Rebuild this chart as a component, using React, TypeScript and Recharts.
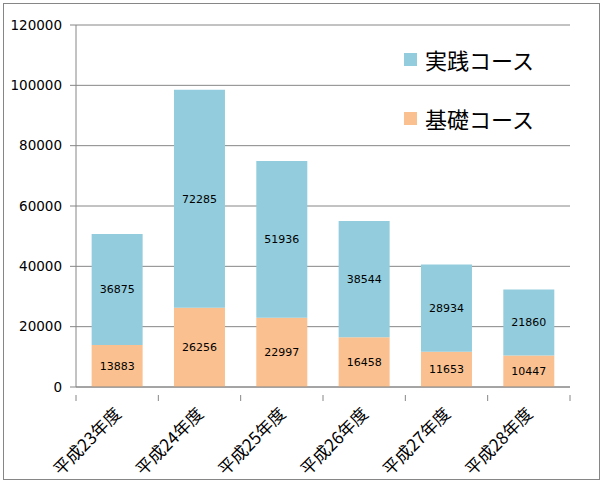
import React from "react";
import { BarChart, Bar, XAxis, YAxis, CartesianGrid, LabelList } from "recharts";

const categories = ["平成23年度", "平成24年度", "平成25年度", "平成26年度", "平成27年度", "平成28年度"];
const jissen = [36875, 72285, 51936, 38544, 28934, 21860];
const kiso = [13883, 26256, 22997, 16458, 11653, 10447];
const yTicks = [0, 20000, 40000, 60000, 80000, 100000, 120000];
const seriesNames = { jissen: "実践コース", kiso: "基礎コース" };

const data = categories.map((c, i) => ({ name: c, kiso: kiso[i], jissen: jissen[i] }));

const W = 604;
const H = 482;
const M = { top: 25, right: 34, left: 6, bottom: 10 };
const Y_W = 70;
const X_H = 85;
const plotW = W - M.left - M.right - Y_W;
const band = plotW / categories.length;

const AXIS = "#868686";
const BLUE = "#93CDDD";
const ORANGE = "#FAC090";

const XTick = (props: any) => {
  const { x, y, payload, index } = props;
  const half = band / 2;
  const tx = x + 5;
  const ty = y + 20;
  return (
    <g>
      <line x1={x - half} y1={y} x2={x - half} y2={y + 6} stroke={AXIS} />
      {index === categories.length - 1 && (
        <line x1={x + half} y1={y} x2={x + half} y2={y + 6} stroke={AXIS} />
      )}
      <text
        x={tx}
        y={ty}
        textAnchor="end"
        transform={`rotate(-45 ${tx} ${ty})`}
        fontSize={17}
        fontFamily="'Noto Sans CJK JP', sans-serif"
        fill="#000"
      >
        {payload.value}
      </text>
    </g>
  );
};

const legendItems = [
  { name: seriesNames.jissen, color: BLUE },
  { name: seriesNames.kiso, color: ORANGE },
];

export default function App() {
  return (
    <div style={{ position: "absolute", left: 0, top: 0, width: W, height: H, background: "#fff" }}>
      <div
        style={{
          position: "absolute",
          left: 3,
          top: 3,
          width: 597,
          height: 477,
          border: `1px solid ${AXIS}`,
          boxSizing: "border-box",
        }}
      />
      <div style={{ position: "absolute", left: 0, top: 0 }}>
        <BarChart width={W} height={H} data={data} margin={M} barCategoryGap="19%">
          <CartesianGrid vertical={false} stroke={AXIS} strokeDasharray="" />
          <XAxis
            dataKey="name"
            interval={0}
            height={X_H}
            tick={<XTick />}
            tickLine={false}
            axisLine={{ stroke: AXIS }}
          />
          <YAxis
            width={Y_W}
            domain={[0, 120000]}
            ticks={yTicks}
            interval={0}
            tickSize={6}
            tickMargin={8}
            tickLine={{ stroke: AXIS }}
            axisLine={{ stroke: AXIS }}
            tick={{ fill: "#000", fontSize: 13.5, fontFamily: "'DejaVu Sans', sans-serif" }}
          />
          <Bar dataKey="kiso" stackId="a" fill={ORANGE} isAnimationActive={false} name={seriesNames.kiso}>
            <LabelList dataKey="kiso" position="center" fill="#000" fontSize={11} fontFamily="'DejaVu Sans', sans-serif" />
          </Bar>
          <Bar dataKey="jissen" stackId="a" fill={BLUE} isAnimationActive={false} name={seriesNames.jissen}>
            <LabelList dataKey="jissen" position="center" fill="#000" fontSize={11} fontFamily="'DejaVu Sans', sans-serif" />
          </Bar>
        </BarChart>
      </div>
      <div
        style={{
          position: "absolute",
          left: 404,
          top: 44,
          fontFamily: "'Noto Sans CJK JP', sans-serif",
          fontSize: 22,
          color: "#000",
        }}
      >
        {legendItems.map((it, i) => (
          <div key={i} style={{ display: "flex", alignItems: "center", height: 30, marginBottom: i === 0 ? 29 : 0 }}>
            <span style={{ display: "inline-block", width: 13, height: 13, background: it.color, marginRight: 8 }} />
            <span style={{ lineHeight: "30px" }}>{it.name}</span>
          </div>
        ))}
      </div>
    </div>
  );
}
